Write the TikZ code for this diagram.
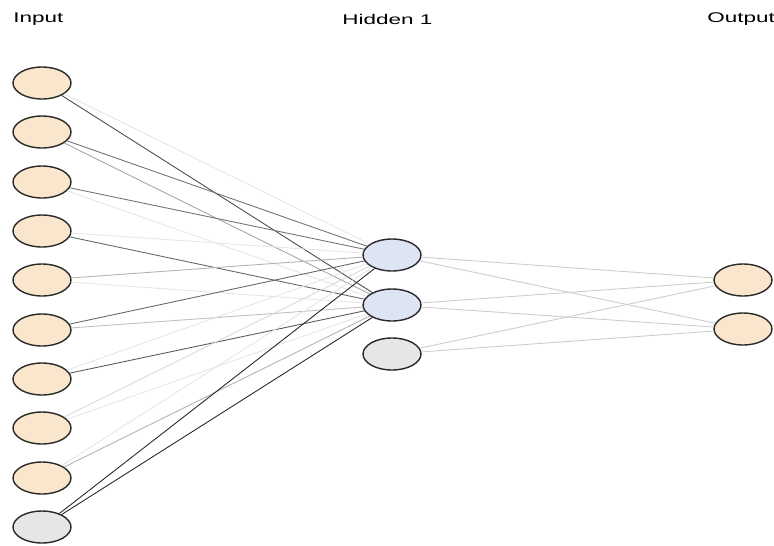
\documentclass[tikz,border=0pt]{standalone}
\usepackage{fontspec}
\setmainfont{Liberation Sans}
\usepackage{graphicx}
\usetikzlibrary{shapes.geometric}
\definecolor{inputfill}{HTML}{F9E6CC}
\definecolor{hiddenfill}{HTML}{DDE4F3}
\definecolor{biasfill}{HTML}{E6E6E6}
\definecolor{rimcolor}{HTML}{2A2A2A}
\newcommand{\widetext}[1]{\scalebox{1.6}[1]{#1}}
\tikzset{neuron/.style={ellipse,draw=rimcolor,line width=0.8pt,minimum width=1.16cm,minimum height=0.64cm,inner sep=0pt},
         innode/.style={neuron,fill=inputfill},
         hidnode/.style={neuron,fill=hiddenfill},
         biasnode/.style={neuron,fill=biasfill},
         layertitle/.style={anchor=west,inner sep=0pt,font=\fontsize{8}{10}\selectfont},
         wire/.style={line width=0.5pt,draw=black!#1}
        }

\begin{document}
\begin{tikzpicture}[x=0.02cm,y=-0.02cm]
      \useasboundingbox (0,0) rectangle (774,545);
      % 層の名前
      \node[layertitle] (tin) at (13,19) {\widetext{Input}};
      \node[layertitle] (thid) at (342,19) {\widetext{Hidden 1}};
      \node[layertitle] (tout) at (707,19) {\widetext{Output}};

      % 入力層
      \node[innode] (i1) at (42,83) {};
      \node[innode] (i2) at (42,132) {};
      \node[innode] (i3) at (42,182) {};
      \node[innode] (i4) at (42,231) {};
      \node[innode] (i5) at (42,280) {};
      \node[innode] (i6) at (42,330) {};
      \node[innode] (i7) at (42,379) {};
      \node[innode] (i8) at (42,428) {};
      \node[innode] (i9) at (42,478) {};
      \node[biasnode] (ib) at (42,527) {};

      % 隠れ層
      \node[hidnode] (h1) at (392,255) {};
      \node[hidnode] (h2) at (392,305) {};
      \node[biasnode] (hb) at (392,354) {};

      % 出力層
      \node[innode] (o1) at (743,280) {};
      \node[innode] (o2) at (743,329) {};

      % 入力層 -> 隠れ層
      \draw[wire=10] (i1) -- (h1);
      \draw[wire=70] (i1) -- (h2);
      \draw[wire=55] (i2) -- (h1);
      \draw[wire=35] (i2) -- (h2);
      \draw[wire=55] (i3) -- (h1);
      \draw[wire=10] (i3) -- (h2);
      \draw[wire=10] (i4) -- (h1);
      \draw[wire=60] (i4) -- (h2);
      \draw[wire=30] (i5) -- (h1);
      \draw[wire=10] (i5) -- (h2);
      \draw[wire=60] (i6) -- (h1);
      \draw[wire=25] (i6) -- (h2);
      \draw[wire=10] (i7) -- (h1);
      \draw[wire=65] (i7) -- (h2);
      \draw[wire=15] (i8) -- (h1);
      \draw[wire=10] (i8) -- (h2);
      \draw[wire=10] (i9) -- (h1);
      \draw[wire=30] (i9) -- (h2);
      \draw[wire=85] (ib) -- (h1);
      \draw[wire=85] (ib) -- (h2);

      % 隠れ層 -> 出力層
      \draw[wire=20] (h1) -- (o1);
      \draw[wire=20] (h1) -- (o2);
      \draw[wire=20] (h2) -- (o1);
      \draw[wire=20] (h2) -- (o2);
      \draw[wire=20] (hb) -- (o1);
      \draw[wire=20] (hb) -- (o2);
    \end{tikzpicture}
\end{document}
